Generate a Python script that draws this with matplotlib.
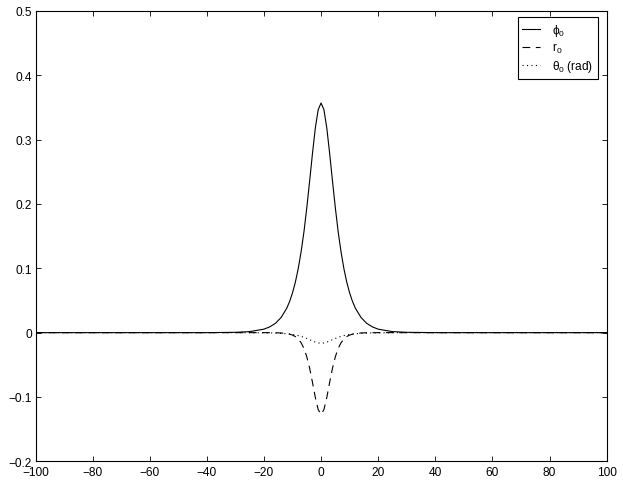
import matplotlib
matplotlib.use("Agg")
import matplotlib.pyplot as plt

plt.rcParams['font.family'] = ['Liberation Sans', 'DejaVu Sans']
plt.rcParams['mathtext.fontset'] = 'custom'
plt.rcParams['mathtext.rm'] = 'Liberation Sans'
plt.rcParams['mathtext.it'] = 'Liberation Sans'

# values
x = [-100, -40, -30, -25, -20, -18, -16, -14, -12, -11, -10, -9, -8, -7, -6, -5,
     -4, -3, -2, -1, 0, 1, 2, 3, 4, 5, 6, 7, 8, 9, 10, 11, 12, 14, 16, 18, 20,
     25, 30, 40, 100]

phi0 = [0.0, 0.0, 0.0005, 0.0016, 0.0054, 0.0089, 0.0144, 0.0235, 0.0381, 0.0486,
        0.0618, 0.0785, 0.0994, 0.1254, 0.1565, 0.1940, 0.2357, 0.2789, 0.3184,
        0.3466, 0.357, 0.3466, 0.3184, 0.2789, 0.2357, 0.1940, 0.1565, 0.1254,
        0.0994, 0.0785, 0.0618, 0.0486, 0.0381, 0.0235, 0.0144, 0.0089, 0.0054,
        0.0016, 0.0005, 0.0, 0.0]

r0 = [0.0, 0.0, 0.0, 0.0, 0.0, -0.0001, -0.0002, -0.0005, -0.0015, -0.0024,
      -0.0038, -0.0061, -0.0099, -0.0157, -0.0244, -0.0375, -0.0553, -0.0775,
      -0.1010, -0.1197, -0.127, -0.1197, -0.1010, -0.0775, -0.0553, -0.0375,
      -0.0244, -0.0157, -0.0099, -0.0061, -0.0038, -0.0024, -0.0015, -0.0005,
      -0.0002, -0.0001, 0.0, 0.0, 0.0, 0.0, 0.0]

theta0 = [0.0, 0.0, 0.0, -0.0001, -0.0003, -0.0004, -0.0007, -0.0011, -0.0018,
          -0.0022, -0.0029, -0.0036, -0.0046, -0.0058, -0.0072, -0.0090, -0.0109,
          -0.0129, -0.0147, -0.0160, -0.0165, -0.0160, -0.0147, -0.0129, -0.0109,
          -0.0090, -0.0072, -0.0058, -0.0046, -0.0036, -0.0029, -0.0022, -0.0018,
          -0.0011, -0.0007, -0.0004, -0.0003, -0.0001, 0.0, 0.0, 0.0]

xticks = [-100, -80, -60, -40, -20, 0, 20, 40, 60, 80, 100]
xtick_labels = ['\u2212100', '\u221280', '\u221260', '\u221240', '\u221220',
                '0', '20', '40', '60', '80', '100']
yticks = [-0.2, -0.1, 0, 0.1, 0.2, 0.3, 0.4, 0.5]
ytick_labels = ['\u22120.2', '\u22120.1', '0', '0.1', '0.2', '0.3', '0.4', '0.5']

fig = plt.figure(figsize=(6.23, 4.85), dpi=100)
ax = fig.add_axes([0.057, 0.0468, 0.9167, 0.9285])

ax.plot(x, phi0, color='black', linewidth=0.8, label=r'$\phi_0$')
ax.plot(x, r0, color='black', linewidth=0.8, linestyle=(0, (7, 5)), label=r'$\mathrm{r}_0$')
ax.plot(x, theta0, color='black', linewidth=0.8, linestyle=(0, (1, 3)), label=r'$\theta_0$ (rad)')

ax.set_xlim(-100, 100)
ax.set_ylim(-0.2, 0.5)
ax.set_xticks(xticks)
ax.set_xticklabels(xtick_labels)
ax.set_yticks(yticks)
ax.set_yticklabels(ytick_labels)
ax.tick_params(direction='in', top=True, right=True, length=3.5, width=0.6,
               labelsize=8.6)
ax.tick_params(axis='x', pad=3.5)
ax.tick_params(axis='y', pad=2.5)
for s in ax.spines.values():
    s.set_linewidth(0.8)

leg = ax.legend(loc='upper right', bbox_to_anchor=(0.9853, 0.986), borderaxespad=0,
                fontsize=8.6, fancybox=False, framealpha=1, edgecolor='black',
                handlelength=1.5, handletextpad=1.0, labelspacing=0.25,
                borderpad=0.4)
leg.get_frame().set_linewidth(0.8)

fig.savefig('out.png', dpi=100)
